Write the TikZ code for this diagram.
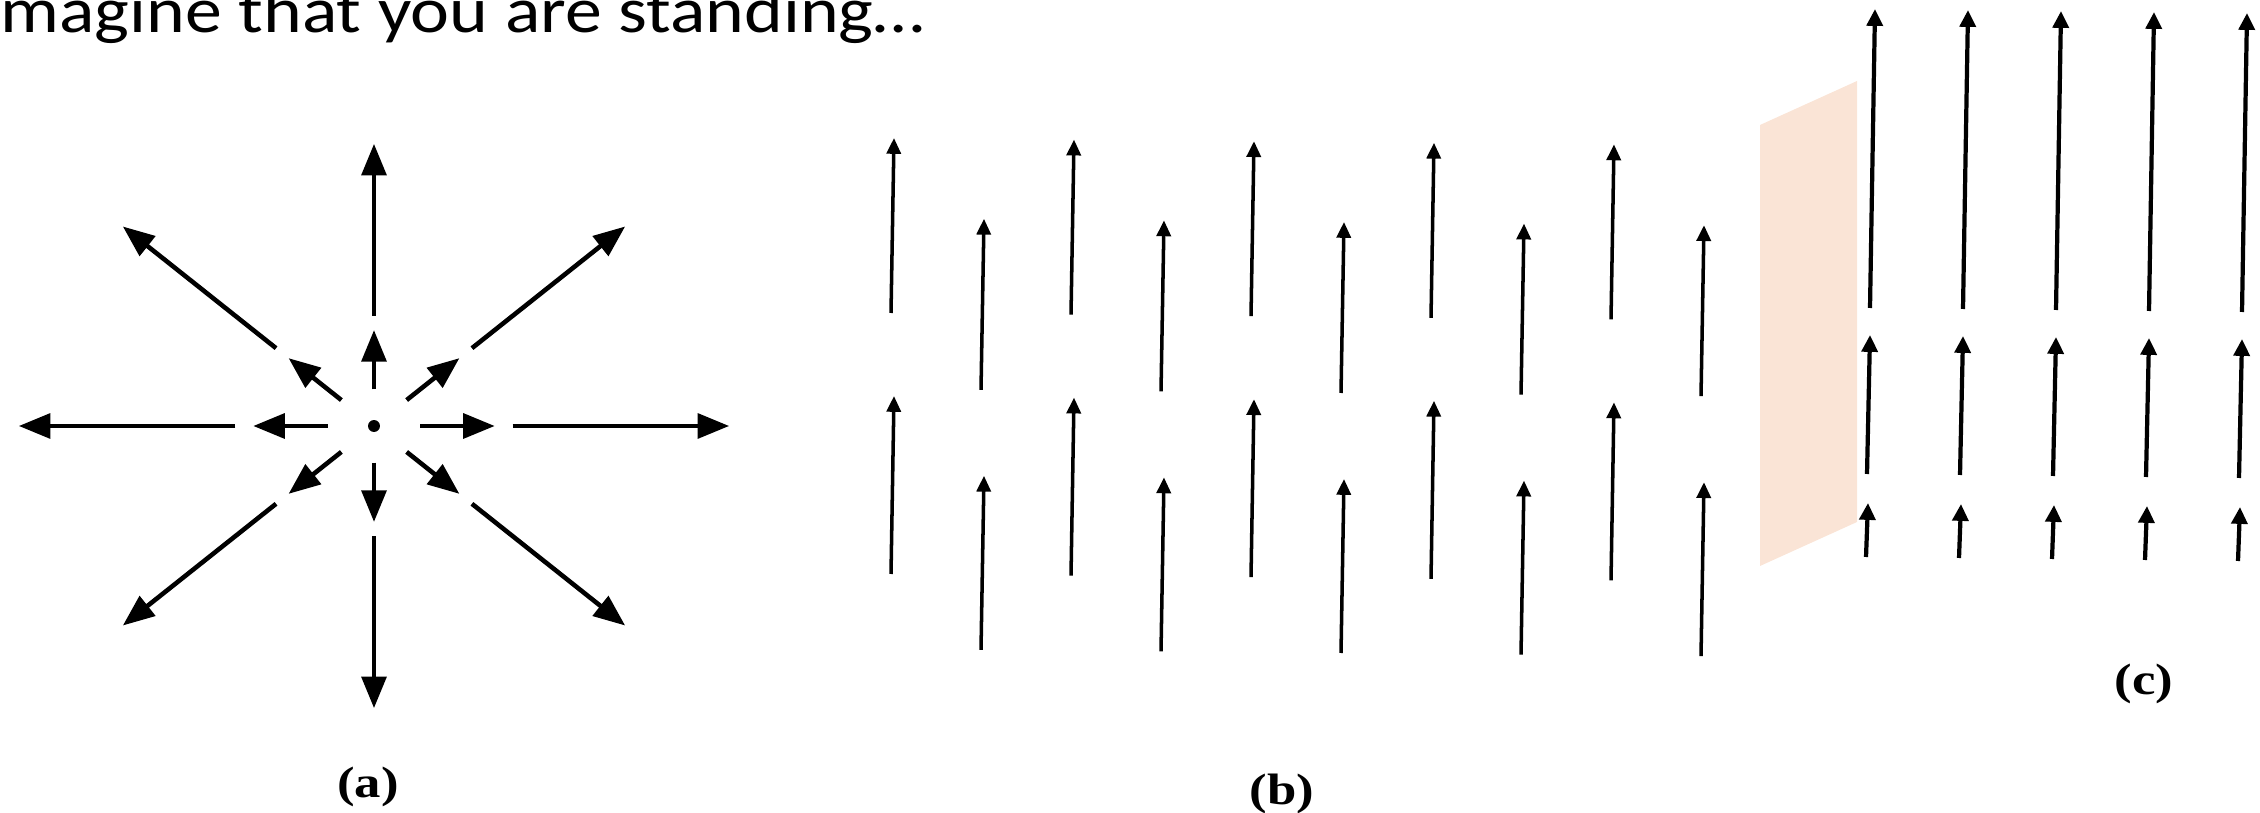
\documentclass[tikz,border=0pt]{standalone}
\usepackage{fontspec}
\setmainfont{Liberation Serif}
\newfontfamily\slidefont{Carlito}
\usetikzlibrary{arrows.meta}

\definecolor{sheetpink}{RGB}{250,228,214}
\tikzset{
  fieldline/.style={line width=1.3pt, -{Triangle[length=9pt,width=7pt]}},
  flowline/.style={line width=1pt, -{Triangle[length=4.5pt,width=4pt]}},
  sheetline/.style={line width=1.2pt, -{Triangle[length=4.8pt,width=4.5pt]}},
  caption/.style={font=\bfseries\fontsize{12.5}{14}\selectfont, inner sep=0pt},
}

\begin{document}
\begin{tikzpicture}[x=0.01cm, y=-0.01cm]
    \useasboundingbox (0,0) rectangle (2260,813);
    \clip (0,0) rectangle (2260,813);

    % Title
    \node[anchor=base west, inner sep=0pt, font=\slidefont\fontsize{18.4}{22}\selectfont] (title) at (0,33) {\scalebox{1.14}[1]{magine that you are standing…}};

    % (a) point source
    \node[circle, fill, inner sep=0pt, minimum size=3.4pt] (charge) at (374,426) {};
    \begin{scope}[shift={(374,426)}, x=3.55cm, y=2.82cm]
      \foreach \ang in {0,45,...,315} {
        \draw[fieldline] (\ang:0.13) -- (\ang:0.34);
        \draw[fieldline] (\ang:0.39) -- (\ang:1);
      }
    \end{scope}

    % (b) uniform field
    \foreach \i in {0,2,...,8} {
      \draw[flowline] (891+90*\i, 313+0.8*\i) -- (894+90*\i, 138+0.8*\i);
      \draw[flowline] (891+90*\i, 574+0.8*\i) -- (894+90*\i, 396+0.8*\i);
    }
    \foreach \i in {1,3,...,9} {
      \draw[flowline] (891+90*\i, 389+0.8*\i) -- (894+90*\i, 218+0.8*\i);
      \draw[flowline] (891+90*\i, 649+0.8*\i) -- (894+90*\i, 475+0.8*\i);
    }

    % (c) sheet
    \fill[sheetpink] (1760,125) -- (1857,81) -- (1857,522) -- (1760,566) -- cycle;
    \foreach \i in {0,...,4} {
      \draw[sheetline] (1870+93*\i, 308+\i) -- (1875+93*\i, 9+\i);
      \draw[sheetline] (1867+93*\i, 474+\i) -- (1870+93*\i, 335+\i);
      \draw[sheetline] (1866+93*\i, 557+\i) -- (1868+93*\i, 503+\i);
    }

    % Captions
    \node[caption] (capa) at (368,787) {\scalebox{1.2}[1]{(a)}};
    \node[caption] (capb) at (1282,794) {\scalebox{1.2}[1]{(b)}};
    \node[caption] (capc) at (2144,684) {\scalebox{1.2}[1]{(c)}};
\end{tikzpicture}
\end{document}
